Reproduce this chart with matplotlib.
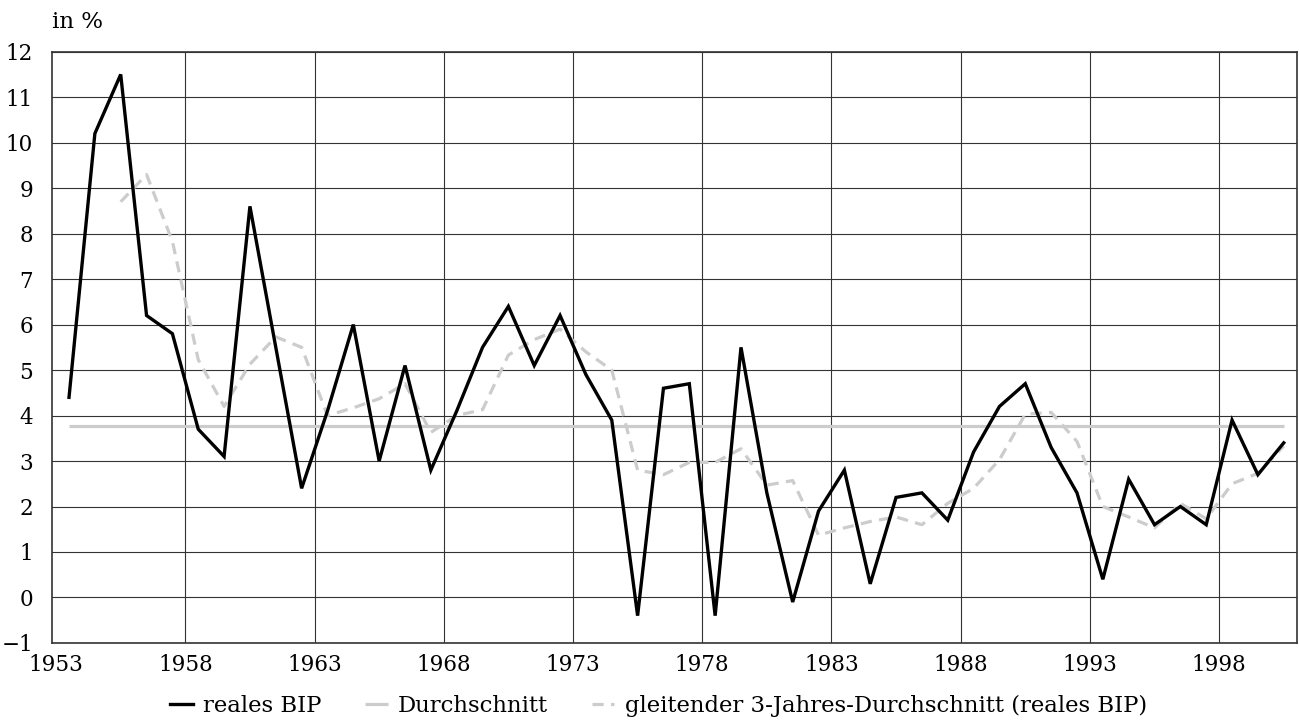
import matplotlib
matplotlib.use("Agg")
import matplotlib.pyplot as plt

# Jahre und Werte
jahre = list(range(1953, 2001))
reales_bip = [4.4, 10.2, 11.5, 6.2, 5.8, 3.7, 3.1, 8.6, 5.5, 2.4,
              4.1, 6.0, 3.0, 5.1, 2.8, 4.1, 5.5, 6.4, 5.1, 6.2,
              4.9, 3.9, -0.4, 4.6, 4.7, -0.4, 5.5, 2.3, -0.1, 1.9,
              2.8, 0.3, 2.2, 2.3, 1.7, 3.2, 4.2, 4.7, 3.3, 2.3,
              0.4, 2.6, 1.6, 2.0, 1.6, 3.9, 2.7, 3.4]
durchschnitt = 3.77
# gleitender 3-Jahres-Durchschnitt ab 1955
gleitend_jahre = list(range(1955, 2001))
gleitend = [8.70, 9.30, 7.83, 5.23, 4.20, 5.13, 5.73, 5.50, 4.00, 4.17,
            4.37, 4.70, 3.63, 4.00, 4.13, 5.33, 5.67, 5.90, 5.40, 5.00,
            2.80, 2.70, 2.97, 2.97, 3.27, 2.47, 2.57, 1.37, 1.53, 1.67,
            1.77, 1.60, 2.07, 2.40, 3.03, 4.03, 4.07, 3.43, 2.00, 1.77,
            1.53, 2.07, 1.73, 2.50, 2.73, 3.33]
x_ticks = list(range(1953, 1999, 5))
y_ticks = list(range(-1, 13))

plt.rcParams['font.family'] = ['DejaVu Serif']
plt.rcParams['font.size'] = 15

fig = plt.figure(figsize=(12.99, 7.23), dpi=100)
ax = fig.add_axes([0.0403, 0.1107, 0.9585, 0.8178])

# Punkte liegen jeweils in der Jahresmitte
x_bip = [j + 0.5 for j in jahre]
x_gl = [j + 0.5 for j in gleitend_jahre]

ax.plot([x_bip[0], x_bip[-1]], [durchschnitt, durchschnitt], color='#cccccc',
        lw=2.3, label='Durchschnitt', zorder=2, solid_capstyle='butt')
ax.plot(x_gl, gleitend, color='#cccccc', lw=2.3, linestyle=(0, (3.5, 2.3)),
        label='gleitender 3-Jahres-Durchschnitt (reales BIP)', zorder=3)
ax.plot(x_bip, reales_bip, color='black', lw=2.4, label='reales BIP', zorder=4,
        solid_joinstyle='miter')

ax.set_xlim(1952.855, 2001.03)
ax.set_ylim(-1, 12)
ax.set_xticks(x_ticks)
ax.set_yticks(y_ticks)
ax.tick_params(axis='both', length=0, labelsize=15.5)
ax.tick_params(axis='y', pad=14)
ax.tick_params(axis='x', pad=8)

ax.grid(True, color='#333333', lw=0.8, zorder=1)
ax.xaxis.get_gridlines()[0].set_visible(False)
for s in ax.spines.values():
    s.set_color('#333333')
    s.set_linewidth(1.2)

fig.text(52 / 1299, 1 - 22 / 723, 'in %', ha='left', va='center', fontsize=16.5)

h, l = ax.get_legend_handles_labels()
order = [2, 0, 1]
ax.legend([h[i] for i in order], [l[i] for i in order], loc='center',
          bbox_to_anchor=(0.507, 0.0235), bbox_transform=fig.transFigure,
          ncol=3, frameon=False, handlelength=1.0, handletextpad=0.45,
          columnspacing=1.9, fontsize=16.4)

fig.savefig('out.png', dpi=100)
